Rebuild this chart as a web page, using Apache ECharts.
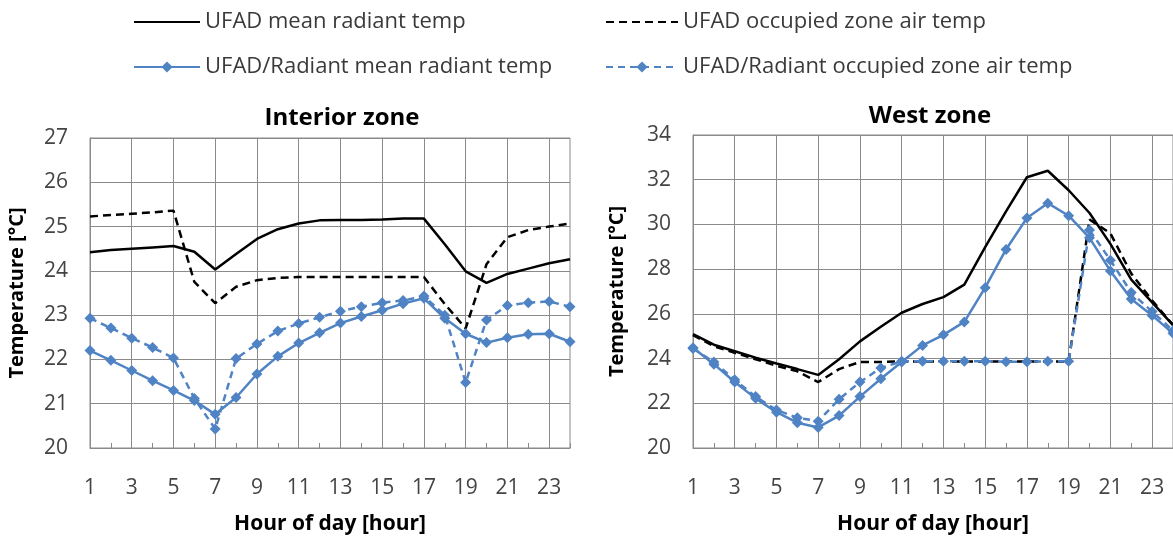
<!DOCTYPE html>
<html>
<head>
<meta charset="utf-8">
<script src="https://cdn.jsdelivr.net/npm/echarts@6/dist/echarts.min.js"></script>
<style>
  html, body { margin: 0; padding: 0; background: #fff; }
  #chart { width: 1173px; height: 540px; }
</style>
</head>
<body>
<div id="chart"></div>
<script>
const hours = ['1','2','3','4','5','6','7','8','9','10','11','12','13','14','15','16','17','18','19','20','21','22','23','24'];

// Interior zone
const intUfadMrt = [24.42, 24.47, 24.5, 24.53, 24.56, 24.43, 24.03, 24.38, 24.72, 24.94, 25.07, 25.14, 25.15, 25.15, 25.16, 25.18, 25.18, 24.6, 23.99, 23.73, 23.93, 24.05, 24.17, 24.26];
const intUfadAir = [25.23, 25.26, 25.29, 25.32, 25.36, 23.75, 23.27, 23.64, 23.79, 23.84, 23.86, 23.86, 23.86, 23.86, 23.86, 23.86, 23.86, 23.25, 22.7, 24.15, 24.76, 24.92, 25.0, 25.07];
const intRadMrt = [22.2, 21.98, 21.75, 21.52, 21.3, 21.07, 20.76, 21.14, 21.67, 22.07, 22.37, 22.6, 22.82, 22.97, 23.11, 23.26, 23.38, 22.93, 22.58, 22.38, 22.49, 22.57, 22.58, 22.4];
const intRadAir = [22.93, 22.71, 22.48, 22.27, 22.03, 21.12, 20.43, 22.02, 22.35, 22.64, 22.81, 22.95, 23.09, 23.19, 23.28, 23.33, 23.43, 23.0, 21.48, 22.89, 23.22, 23.28, 23.31, 23.19];

// West zone
const westUfadMrt = [25.09, 24.62, 24.33, 24.04, 23.78, 23.53, 23.27, 23.97, 24.77, 25.42, 26.05, 26.44, 26.75, 27.31, 28.98, 30.58, 32.11, 32.4, 31.53, 30.51, 29.13, 27.53, 26.51, 25.5];
const westUfadAir = [25.05, 24.55, 24.26, 23.97, 23.68, 23.43, 22.95, 23.53, 23.85, 23.85, 23.87, 23.87, 23.87, 23.87, 23.87, 23.87, 23.87, 23.87, 23.87, 30.22, 29.6, 27.8, 26.6, 25.5];
const westRadMrt = [24.48, 23.75, 22.95, 22.22, 21.6, 21.13, 20.92, 21.45, 22.3, 23.1, 23.85, 24.59, 25.06, 25.64, 27.17, 28.88, 30.29, 30.95, 30.39, 29.4, 27.92, 26.66, 25.93, 25.13];
const westRadAir = [24.45, 23.85, 23.05, 22.3, 21.7, 21.35, 21.2, 22.18, 22.95, 23.58, 23.88, 23.88, 23.88, 23.88, 23.88, 23.86, 23.86, 23.88, 23.88, 29.75, 28.4, 26.95, 26.1, 25.25];

const seriesNames = [
  'UFAD mean radiant temp',
  'UFAD occupied zone air temp',
  'UFAD/Radiant mean radiant temp',
  'UFAD/Radiant occupied zone air temp'
];

const FONT = '"Open Sans", "Noto Sans", sans-serif';
const gridGrey = '#8a8a8a';
const blue = '#4f83c4';

function xAxisFor(idx) {
  return {
    type: 'category',
    gridIndex: idx,
    data: hours,
    boundaryGap: false,
    name: 'Hour of day [hour]',
    nameLocation: 'middle',
    nameGap: 66,
    nameTextStyle: { fontFamily: FONT, fontSize: 21, fontWeight: 'bold', color: '#000' },
    axisLine: { lineStyle: { color: gridGrey, width: 1 } },
    axisTick: { show: true, inside: true, interval: 0, length: 5, lineStyle: { color: gridGrey } },
    axisLabel: { interval: 1, fontFamily: FONT, fontSize: 21, color: '#444', margin: 30 },
    splitLine: { show: true, interval: 1, lineStyle: { color: gridGrey, width: 1 } }
  };
}

function yAxisFor(idx, min, max, step) {
  return {
    type: 'value',
    gridIndex: idx,
    min: min,
    max: max,
    interval: step,
    name: 'Temperature [°C]',
    nameLocation: 'middle',
    nameGap: idx === 0 ? 63 : 66,
    nameTextStyle: { fontFamily: FONT, fontSize: 20, fontWeight: 'bold', color: '#000' },
    axisLine: { show: true, lineStyle: { color: gridGrey, width: 1 } },
    axisTick: { show: false },
    axisLabel: { fontFamily: FONT, fontSize: 21, color: '#444', margin: 22 },
    splitLine: { show: true, lineStyle: { color: gridGrey, width: 1 } }
  };
}

function lineSeries(name, data, idx, kind) {
  const s = {
    name: name,
    type: 'line',
    xAxisIndex: idx,
    yAxisIndex: idx,
    data: data,
    animation: false
  };
  if (kind === 'blackSolid') {
    s.symbol = 'none';
    s.lineStyle = { color: '#000', width: 2.5 };
    s.itemStyle = { color: '#000' };
  } else if (kind === 'blackDash') {
    s.symbol = 'none';
    s.lineStyle = { color: '#000', width: 2.5, type: [8, 5] };
    s.itemStyle = { color: '#000' };
  } else if (kind === 'blueSolid') {
    s.symbol = 'diamond';
    s.symbolSize = 11;
    s.lineStyle = { color: blue, width: 2.5 };
    s.itemStyle = { color: blue };
  } else {
    s.symbol = 'diamond';
    s.symbolSize = 11;
    s.lineStyle = { color: blue, width: 2.5, type: [7, 5] };
    s.itemStyle = { color: blue };
  }
  return s;
}

const chart = echarts.init(document.getElementById('chart'), null, { renderer: 'canvas' });

const legendText = { fontFamily: FONT, fontSize: 22, color: '#3a3a3a', lineHeight: 24 };
// black series: line only in the legend, no marker
const plainLine = { itemStyle: { opacity: 0 } };

chart.setOption({
  backgroundColor: '#fff',
  animation: false,
  title: [
    { text: 'Interior zone', left: 337, top: 101, textAlign: 'center',
      textStyle: { fontFamily: FONT, fontSize: 24, fontWeight: 'bold', color: '#000' } },
    { text: 'West zone', left: 925, top: 99, textAlign: 'center',
      textStyle: { fontFamily: FONT, fontSize: 24, fontWeight: 'bold', color: '#000' } }
  ],
  legend: [
    {
      left: 128, top: 5, orient: 'vertical',
      itemWidth: 66, itemHeight: 14, itemGap: 21,
      data: [Object.assign({ name: seriesNames[0] }, plainLine), seriesNames[2]],
      textStyle: legendText
    },
    {
      left: 600, top: 5, orient: 'vertical',
      itemWidth: 72, itemHeight: 14, itemGap: 21,
      data: [Object.assign({ name: seriesNames[1] }, plainLine), seriesNames[3]],
      textStyle: legendText
    }
  ],
  grid: [
    { left: 90, top: 138, width: 480, height: 319, show: true, borderColor: gridGrey, borderWidth: 1 },
    { left: 693, top: 135, width: 480, height: 321, show: true, borderColor: gridGrey, borderWidth: 1 }
  ],
  xAxis: [xAxisFor(0), xAxisFor(1)],
  yAxis: [yAxisFor(0, 20, 27, 1), yAxisFor(1, 20, 34, 2)],
  series: [
    lineSeries(seriesNames[0], intUfadMrt, 0, 'blackSolid'),
    lineSeries(seriesNames[1], intUfadAir, 0, 'blackDash'),
    lineSeries(seriesNames[2], intRadMrt, 0, 'blueSolid'),
    lineSeries(seriesNames[3], intRadAir, 0, 'blueDash'),
    lineSeries(seriesNames[0], westUfadMrt, 1, 'blackSolid'),
    lineSeries(seriesNames[1], westUfadAir, 1, 'blackDash'),
    lineSeries(seriesNames[2], westRadMrt, 1, 'blueSolid'),
    lineSeries(seriesNames[3], westRadAir, 1, 'blueDash')
  ]
});
</script>
</body>
</html>
